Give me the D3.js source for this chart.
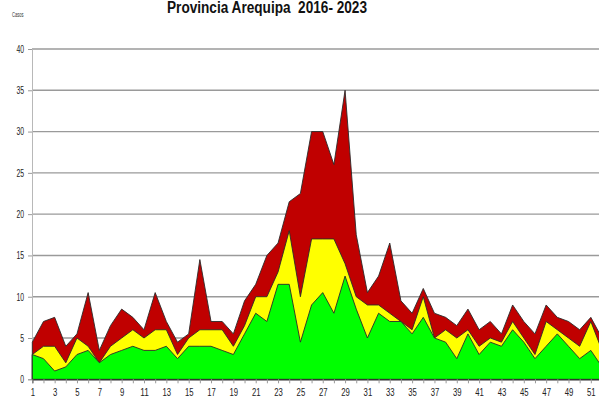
<!DOCTYPE html>
<html><head><meta charset="utf-8">
<script src="https://cdn.jsdelivr.net/npm/d3@7"></script>
<style>html,body{margin:0;padding:0;background:#fff;overflow:hidden}svg{display:block}</style>
</head><body>
<svg id="chart" width="599" height="407"></svg>
<script>
// Epidemiological weeks
const weeks = d3.range(1, 53);
// Cumulative level (top of each coloured band)
const greenLevel = [3,2.5,1,1.5,3,3.5,2,3,3.5,4,3.5,3.5,4,2.5,4,4,4,3.5,3,5.5,8,7,11.5,11.5,4.5,9,10.5,8,12.5,8.5,5,8,7,7,5.5,7.5,5,4.5,2.5,5.5,3,4.5,4,6,4.5,2.5,4,5.5,4,2.5,3.5,1.5];
const yellowLevel = [3,4,4,2,5,4,2,4,5,6,5,6,6,3,5,6,6,6,4,6.5,10,10,13,18,10,17,17,17,14,10,9,9,8,7,6,10,5,6,5,6,4,5,4.5,7,5,3,7,6,5,4,7,3.5];
const redLevel = [4.5,7,7.5,4,5.5,10.5,3.5,6.5,8.5,7.5,6,10.5,7,4.5,5.5,14.5,7,7,5.5,9.5,11.5,15,16.5,21.5,22.5,30,30,26,35,17.5,10.5,12.5,16.5,9.5,8,11,8,7.5,6.5,8.5,6,7,5.5,9,7,5.5,9,7.5,7,6,7.5,5];
const yTicks = [0,5,10,15,20,25,30,35,40];
const titleText = "Provincia Arequipa\u00a0\u00a02016- 2023";
const yLabel = "Casos";

const svg = d3.select("#chart");
const x = d3.scaleLinear().domain([1, 52]).range([32.3, 602]);
const y = d3.scaleLinear().domain([0, 40]).range([379.3, 49]);

// gridlines
svg.append("g").selectAll("line").data(yTicks.filter(t => t > 0)).join("line")
  .attr("x1", 32).attr("x2", 599)
  .attr("y1", d => y(d)).attr("y2", d => y(d))
  .attr("stroke", "#9a9a9a").attr("stroke-width", 1.4);

// y axis
const yAxis = svg.append("g").attr("transform", "translate(32,0)")
  .call(d3.axisLeft(y).tickValues(yTicks).tickSize(4).tickPadding(4));
yAxis.select(".domain").attr("stroke", "#b8b8b8");
yAxis.selectAll(".tick line").attr("stroke", "#999");
yAxis.selectAll("text").attr("font-family", "Liberation Sans, Arial, sans-serif")
  .attr("font-size", 10.5).attr("fill", "#222")
  .attr("textLength", d => String(d).length * 3.8).attr("lengthAdjust", "spacingAndGlyphs");

// areas: drawn back to front
const layers = [
  {vals: redLevel, color: "#c00000"},
  {vals: yellowLevel, color: "#ffff00"},
  {vals: greenLevel, color: "#00ff00"}
];
const area = d3.area().x((d, i) => x(weeks[i])).y0(y(0)).y1(d => y(d));
svg.append("g").selectAll("path").data(layers).join("path")
  .attr("d", d => area(d.vals))
  .attr("fill", d => d.color)
  .attr("stroke", "#2a2a2a").attr("stroke-width", 0.9).attr("stroke-linejoin", "miter");

// x axis
const xAxis = svg.append("g").attr("transform", `translate(0,${y(0)})`)
  .call(d3.axisBottom(x).tickValues(weeks).tickSize(4).tickPadding(5)
    .tickFormat(d => d % 2 === 1 ? d : ""));
xAxis.select(".domain").attr("stroke", "#333").attr("stroke-width", 1.2);
xAxis.selectAll(".tick line").attr("stroke", "#999");
xAxis.selectAll("text").attr("font-family", "Liberation Sans, Arial, sans-serif")
  .attr("font-size", 11).attr("fill", "#222")
  .each(function(d) { if (d % 2 === 1) d3.select(this).attr("textLength", String(d).length * 4.3).attr("lengthAdjust", "spacingAndGlyphs"); });

// title
svg.append("text").attr("x", 267).attr("y", 12.5).attr("text-anchor", "middle")
  .attr("font-family", "Liberation Sans, Arial, sans-serif").attr("font-weight", "bold")
  .attr("font-size", 16).attr("fill", "#111")
  .attr("textLength", 200).attr("lengthAdjust", "spacingAndGlyphs")
  .text(titleText);

// y label
svg.append("text").attr("x", 12).attr("y", 17)
  .attr("font-family", "Liberation Sans, Arial, sans-serif")
  .attr("font-size", 8).attr("fill", "#333")
  .attr("textLength", 11.5).attr("lengthAdjust", "spacingAndGlyphs")
  .text(yLabel);
</script>
</body></html>
